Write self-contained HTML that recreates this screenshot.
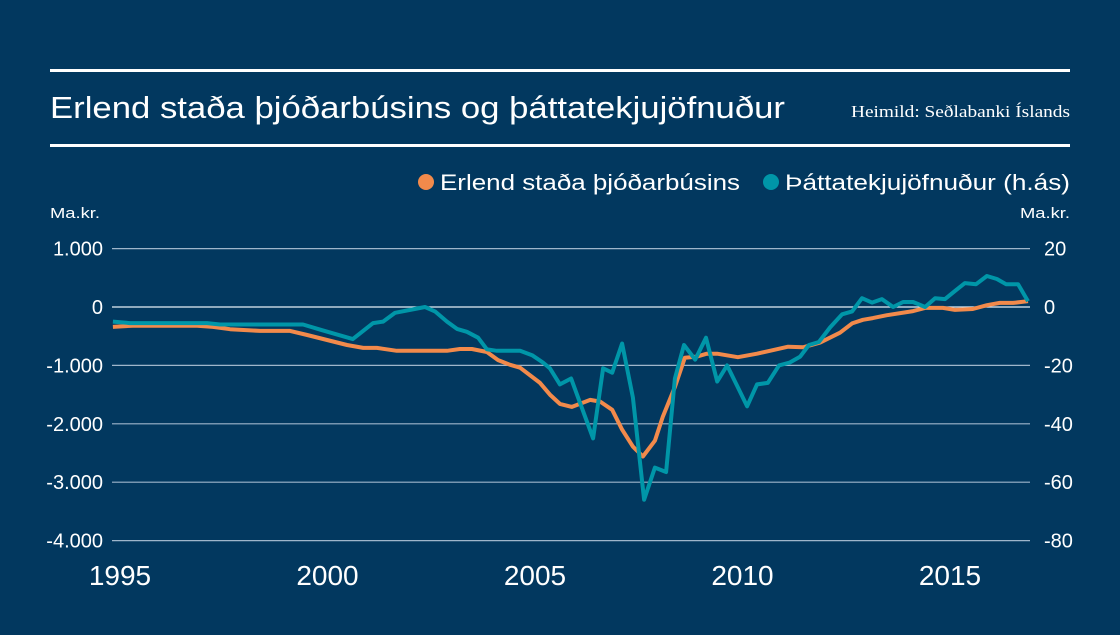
<!DOCTYPE html>
<html><head><meta charset="utf-8"><style>
html,body{margin:0;padding:0;background:#02385f;}
body{width:1120px;height:630px;overflow:hidden;font-family:"Liberation Sans",sans-serif;color:#fff;}
svg text{font-family:"Liberation Sans",sans-serif;fill:#fff;}
</style></head><body>
<svg id="chart" width="1120" height="630" xmlns="http://www.w3.org/2000/svg">
<rect width="1120" height="630" fill="#02385f"/>
<rect x="50" y="69" width="1020" height="3" fill="#fff"/>
<text x="50" y="118" font-size="31" textLength="735" lengthAdjust="spacingAndGlyphs">Erlend staða þjóðarbúsins og þáttatekjujöfnuður</text>
<text x="851" y="117" font-size="17" textLength="219" lengthAdjust="spacingAndGlyphs" style="font-family:'Liberation Serif',serif">Heimild: Seðlabanki Íslands</text>
<rect x="50" y="144" width="1020" height="3" fill="#fff"/>
<g>
<circle cx="426" cy="182" r="8" fill="#f28a4b"/>
<text x="440" y="190" font-size="22" textLength="300" lengthAdjust="spacingAndGlyphs">Erlend staða þjóðarbúsins</text>
<circle cx="771" cy="182" r="8" fill="#0096a8"/>
<text x="785" y="190" font-size="22" textLength="285" lengthAdjust="spacingAndGlyphs">Þáttatekjujöfnuður (h.ás)</text>
</g>
<text x="50" y="218" font-size="15" textLength="50" lengthAdjust="spacingAndGlyphs">Ma.kr.</text>
<text x="1020" y="218" font-size="15" textLength="50" lengthAdjust="spacingAndGlyphs">Ma.kr.</text>
<g id="grid"></g><g id="axes"></g><g id="series"></g>
</svg>
<script>
const leftTicks=[1000,0,-1000,-2000,-3000,-4000];
const leftTickLabels=["1.000","0","-1.000","-2.000","-3.000","-4.000"];
const rightTicks=[20,0,-20,-40,-60,-80];
const xTicks=[1995,2000,2005,2010,2015];
const erlendYears=[1994.83,1995.31,1996.86,1997.24,1997.65,1998.37,1999.10,1999.51,1999.99,2000.47,2000.86,2001.19,2001.67,2002.88,2003.19,2003.48,2003.84,2004.11,2004.40,2004.64,2005.12,2005.36,2005.60,2005.89,2006.33,2006.57,2006.86,2007.10,2007.36,2007.60,2007.89,2008.08,2008.37,2008.61,2008.90,2009.14,2009.39,2009.89,2010.35,2010.66,2011.10,2011.46,2011.87,2012.35,2012.64,2012.90,2013.14,2013.48,2014.11,2014.40,2014.83,2015.12,2015.55,2015.89,2016.20,2016.52,2016.88];
const erlendValues=[-340,-320,-320,-340,-380,-410,-410,-480,-565,-650,-700,-700,-750,-750,-720,-720,-770,-910,-990,-1040,-1300,-1500,-1660,-1710,-1590,-1620,-1760,-2100,-2390,-2560,-2290,-1880,-1370,-870,-850,-800,-800,-860,-800,-750,-680,-690,-610,-440,-280,-220,-190,-140,-70,-15,-15,-50,-35,30,70,70,100];
const thattaYears=[1994.83,1995.24,1997.10,1997.41,1999.41,1999.89,2000.61,2001.10,2001.34,2001.63,2001.99,2002.35,2002.59,2002.88,2003.12,2003.36,2003.63,2003.84,2004.08,2004.64,2004.93,2005.19,2005.36,2005.60,2005.87,2006.40,2006.64,2006.86,2007.10,2007.36,2007.63,2007.89,2008.16,2008.37,2008.59,2008.86,2009.12,2009.39,2009.63,2009.87,2010.11,2010.35,2010.61,2010.88,2011.14,2011.39,2011.60,2011.84,2012.11,2012.40,2012.64,2012.88,2013.12,2013.36,2013.63,2013.87,2014.11,2014.40,2014.64,2014.88,2015.12,2015.36,2015.63,2015.89,2016.13,2016.35,2016.64,2016.88];
const thattaValues=[-5,-5.5,-5.5,-6,-6,-8,-11,-5.5,-5,-2,-1,0,-1.5,-5,-7.5,-8.5,-10.5,-14.5,-15,-15,-16.5,-19,-21,-26.5,-24.5,-45,-21,-22.5,-12.5,-31,-66,-55,-56.5,-24.5,-13,-18,-10.5,-25.5,-20,-27,-34,-26.5,-26,-20,-19,-17,-13,-12,-7,-2.5,-1.5,3,1.5,2.7,0,1.7,1.7,0,3,2.7,5.5,8.2,7.8,10.6,9.6,7.8,7.8,2];

const NS="http://www.w3.org/2000/svg";
const xS=y=>120+(y-1995)*41.5;
const yL=v=>307-v*0.0584;
const yR=v=>307-v*2.92;
const grid=document.getElementById('grid'),axes=document.getElementById('axes'),ser=document.getElementById('series');
function mk(tag,attrs,parent){const e=document.createElementNS(NS,tag);for(const k in attrs)e.setAttribute(k,attrs[k]);parent.appendChild(e);return e;}
leftTicks.forEach((v,i)=>{
  const l=mk('line',{x1:112,x2:1030,y1:yL(v),y2:yL(v),stroke:v===0?'#e6eef5':'#9fb6cb','stroke-width':1.2},grid);
  
  
  const t=mk('text',{x:103,y:yL(v)+7,'font-size':20,'text-anchor':'end'},axes);t.textContent=leftTickLabels[i];
  
  
});
rightTicks.forEach(v=>{
  const t=mk('text',{x:1044,y:yR(v)+7,'font-size':20},axes);t.textContent=String(v);
  
  
});
xTicks.forEach(v=>{
  const t=mk('text',{x:xS(v),y:585,'font-size':28,'text-anchor':'middle'},axes);t.textContent=String(v);
  
  
});
function line(xs,vs,ys,color,name){
  const d=xs.map((x,i)=>(i?'L':'M')+xS(x).toFixed(1)+','+ys(vs[i]).toFixed(1)).join('');
  const p=mk('path',{d:d,fill:'none',stroke:color,'stroke-width':4,'stroke-linejoin':'round'},ser);
  
  
}
line(erlendYears,erlendValues,yL,'#f28a4b','erlend-stada-line');
line(thattaYears,thattaValues,yR,'#0096a8','thattatekjujofnudur-line');
</script>
</body></html>
